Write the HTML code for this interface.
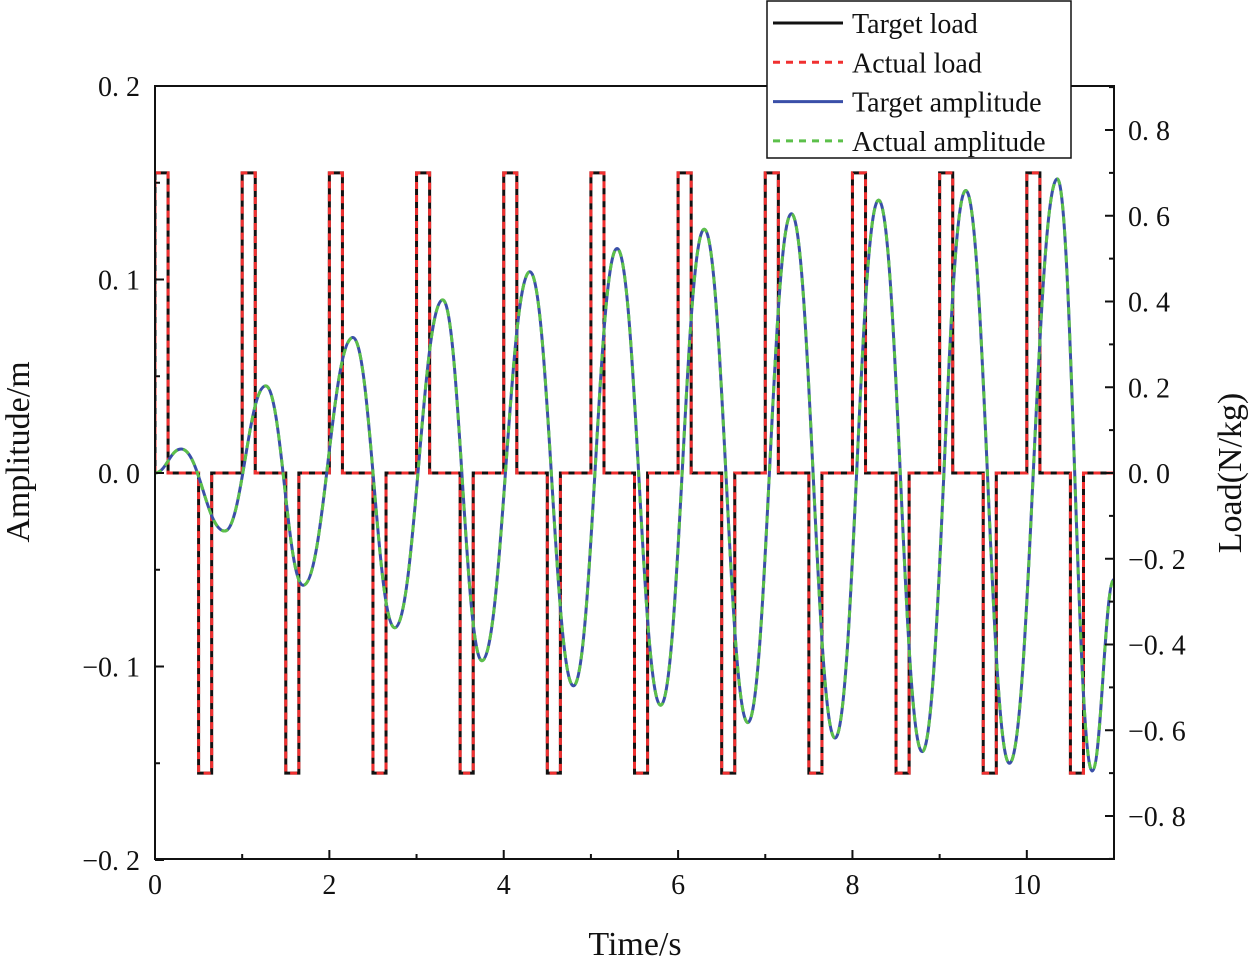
<!DOCTYPE html>
<html><head><meta charset="utf-8"><style>
body{margin:0;background:#fff}
svg text{font-family:"Liberation Serif",serif;fill:#111}
</style></head><body>
<svg id="c" width="1250" height="959" xmlns="http://www.w3.org/2000/svg"></svg>
<script>
// Data
const loadPulseStarts=[0,1,2,3,4,5,6,7,8,9,10];
const loadHigh=0.7, loadLow=-0.7, pulseWidth=0.15, negOffset=0.5;
const ampTimes=[0,0.3,0.8,1.27,1.7,2.27,2.75,3.3,3.75,4.3,4.8,5.3,5.8,6.3,6.8,7.3,7.8,8.3,8.8,9.3,9.8,10.35,10.75,11.0];
const ampValues=[0,0.0124,-0.030,0.045,-0.058,0.070,-0.080,0.0895,-0.097,0.104,-0.110,0.116,-0.120,0.126,-0.129,0.134,-0.137,0.141,-0.144,0.146,-0.150,0.152,-0.154,-0.055];
const xTicks=[0,2,4,6,8,10];
const leftTicks=[0.2,0.1,0.0,-0.1,-0.2];
const leftTickLabels=["0. 2","0. 1","0. 0","\u22120. 1","\u22120. 2"];
const rightTicks=[0.8,0.6,0.4,0.2,0,-0.2,-0.4,-0.6,-0.8];
const rightTickLabels=["0. 8","0. 6","0. 4","0. 2","0. 0","\u22120. 2","\u22120. 4","\u22120. 6","\u22120. 8"];

const L=155,R=1114,T=86,B=859;
const X=t=>L+t*(R-L)/11;
const YL=v=>473-v*(473-T)/0.2;
const YR=v=>473-v*428.75;
const svg=document.getElementById('c');
const NS='http://www.w3.org/2000/svg';
function mk(tag,attrs,parent){const e=document.createElementNS(NS,tag);for(const k in attrs)e.setAttribute(k,attrs[k]);(parent||svg).appendChild(e);return e;}

// series
let d=`M${X(0)},${YR(0)}`;
loadPulseStarts.forEach(k=>{
 d+=` L${X(k)},${YR(0)} L${X(k)},${YR(loadHigh)} L${X(k+pulseWidth)},${YR(loadHigh)} L${X(k+pulseWidth)},${YR(0)}`;
 const n=k+negOffset;
 if(n<11) d+=` L${X(n)},${YR(0)} L${X(n)},${YR(loadLow)} L${X(n+pulseWidth)},${YR(loadLow)} L${X(n+pulseWidth)},${YR(0)}`;
});
d+=` L${X(11)},${YR(0)}`;
let ad=`M${X(ampTimes[0])},${YL(ampValues[0])}`;
for(let i=1;i<ampTimes.length;i++){
 const x0=X(ampTimes[i-1]),x1=X(ampTimes[i]),y0=YL(ampValues[i-1]),y1=YL(ampValues[i]);
 const dx=(x1-x0)*0.42;
 ad+=` C${x0+dx},${y0} ${x1-dx},${y1} ${x1},${y1}`;
}
const g=mk('g',{'clip-path':'url(#clip)'});


const cp=mk('clipPath',{id:'clip'});mk('rect',{x:L,y:T,width:R-L,height:B-T},cp);
let e;
e=mk('path',{d:d,fill:'none',stroke:'#111',"stroke-width":3},g);

e=mk('path',{d:d,fill:'none',stroke:'#f03030',"stroke-width":3,"stroke-dasharray":"7,6"},g);

e=mk('path',{d:ad,fill:'none',stroke:'#3a4fa8',"stroke-width":3},g);

e=mk('path',{d:ad,fill:'none',stroke:'#5cc04a',"stroke-width":3,"stroke-dasharray":"7,6"},g);


// frame
e=mk('rect',{x:L,y:T,width:R-L,height:B-T,fill:'none',stroke:'#111',"stroke-width":2});

// x ticks
for(let t=0;t<=11;t++){const maj=t%2===0;mk('line',{x1:X(t),x2:X(t),y1:B,y2:B-(maj?9:5),stroke:'#111',"stroke-width":2});}
xTicks.forEach(t=>{e=mk('text',{x:X(t),y:B+35,"font-size":28,"text-anchor":"middle"});e.textContent=t;
});
// left ticks
for(let v=-0.2;v<=0.2001;v+=0.05){const maj=Math.abs(Math.round(v*20))%2===0;mk('line',{x1:L,x2:L+(maj?9:5),y1:YL(v),y2:YL(v),stroke:'#111',"stroke-width":2});}
leftTicks.forEach((v,i)=>{e=mk('text',{x:140,y:YL(v)+10,"font-size":28,"text-anchor":"end"});e.textContent=leftTickLabels[i];
});
// right ticks
for(let k=-9;k<=9;k++){const v=k*0.1;const maj=k%2===0;mk('line',{x1:R,x2:R-(maj?9:5),y1:YR(v),y2:YR(v),stroke:'#111',"stroke-width":2});}
rightTicks.forEach((v,i)=>{e=mk('text',{x:1128,y:YR(v)+10,"font-size":28});e.textContent=rightTickLabels[i];
});
// titles
e=mk('text',{x:635,y:955,"font-size":34,"text-anchor":"middle"});e.textContent='Time/s';

e=mk('text',{x:0,y:0,"font-size":34,"text-anchor":"middle",transform:'translate(29,452) rotate(-90)'});e.textContent='Amplitude/m';

e=mk('text',{x:0,y:0,"font-size":34,"text-anchor":"middle",transform:'translate(1241,473) rotate(-90)'});e.textContent='Load(N/kg)';

// legend
const lg=mk('g',{});

mk('rect',{x:767,y:1,width:304,height:157,fill:'#fff',stroke:'#111',"stroke-width":1.5},lg);
const names=['Target load','Actual load','Target amplitude','Actual amplitude'];
const cols=['#111','#f03030','#3a4fa8','#5cc04a'];
const dash=[null,'7,6',null,'7,6'];
names.forEach((n,i)=>{const y=23+i*39.3;
 const ln=mk('line',{x1:773,x2:843,y1:y,y2:y,stroke:cols[i],"stroke-width":3},lg);if(dash[i])ln.setAttribute('stroke-dasharray',dash[i]);
 const t=mk('text',{x:852,y:y+10,"font-size":28},lg);t.textContent=n;
 });
</script>
</body></html>
